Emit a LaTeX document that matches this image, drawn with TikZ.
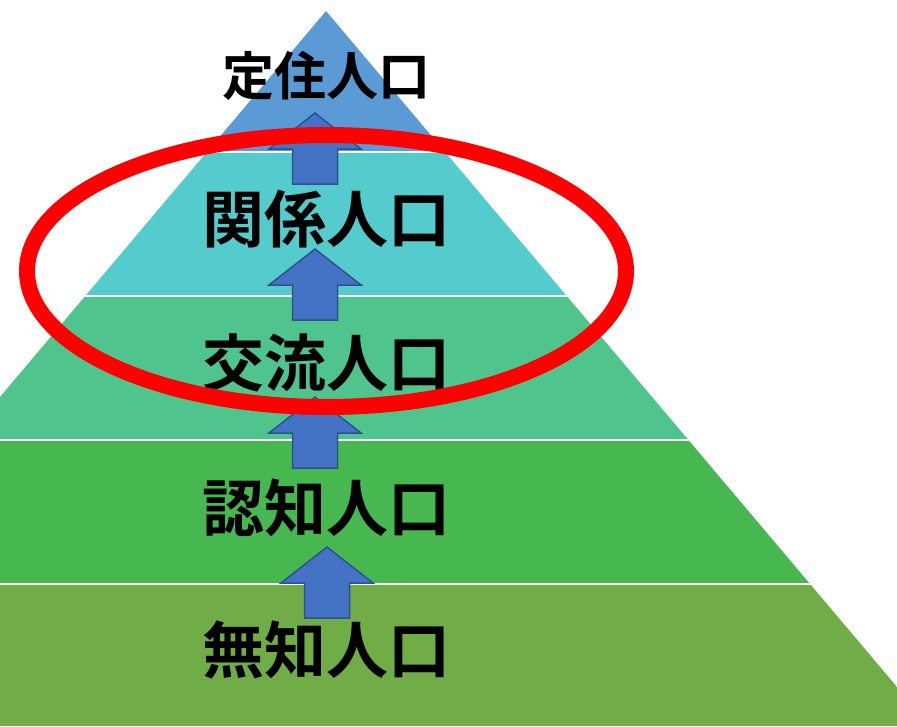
\documentclass[tikz,border=0pt]{standalone}
\usepackage{fontspec}
\newfontfamily\cjk{Noto Sans CJK JP}[BoldFont={Noto Sans CJK JP Bold}]
\definecolor{bandA}{HTML}{5B9BD5}
\definecolor{bandB}{HTML}{54CBCC}
\definecolor{bandC}{HTML}{50C48D}
\definecolor{bandD}{HTML}{47B84F}
\definecolor{bandE}{HTML}{70AD47}
\definecolor{arrfill}{HTML}{4472C4}
\definecolor{arrline}{HTML}{2F528F}
\definecolor{ringred}{HTML}{FF0000}
\tikzset{
  label/.style={inner sep=0pt, font=\cjk\bfseries, text=black},
  bigtext/.style={label, font=\cjk\bfseries\fontsize{62}{62}\selectfont},
  toptext/.style={label, font=\cjk\bfseries\fontsize{52}{52}\selectfont},
  arrowshape/.style={fill=arrfill, draw=arrline, line width=1.5pt, line join=miter},
  uarr/.pic={\path[arrowshape] (-22.5,0) -- (-22.5,-35) -- (-46,-35) -- (0,-71) -- (46,-35) -- (22.5,-35) -- (22.5,0) -- cycle;},
  ring/.style={draw=ringred, line width=16pt}
}
\begin{document}
\begin{tikzpicture}[x=1pt, y=-1pt]
\useasboundingbox (0,0) rectangle (897,726);
\begin{scope}
  \clip (0,0) rectangle (897,726);
  \clip (326,11) -- (930,726) -- (-278,726) -- cycle;
  \fill[bandA] (0,0) rectangle (897,152);
  \fill[bandB] (0,152) rectangle (897,296);
  \fill[bandC] (0,296) rectangle (897,440);
  \fill[bandD] (0,440) rectangle (897,584);
  \fill[bandE] (0,584) rectangle (897,726);
  \draw[white, line width=2.5pt] (0,152) -- (897,152) (0,296) -- (897,296) (0,440) -- (897,440) (0,584) -- (897,584);
\end{scope}
\pic at (315,184) {uarr};
\pic at (315,320) {uarr};
\pic at (315,468) {uarr};
\pic at (327,618) {uarr};
\node[toptext] (t1) at (326,76) {定住人口};
\node[bigtext] (t2) at (326,219) {関係人口};
\node[bigtext] (t3) at (326,363) {交流人口};
\node[bigtext] (t4) at (326,508) {認知人口};
\node[bigtext] (t5) at (326,650) {無知人口};
\draw[ring] (326.5,271) ellipse [x radius=299.5, y radius=136];
\end{tikzpicture}
\end{document}
